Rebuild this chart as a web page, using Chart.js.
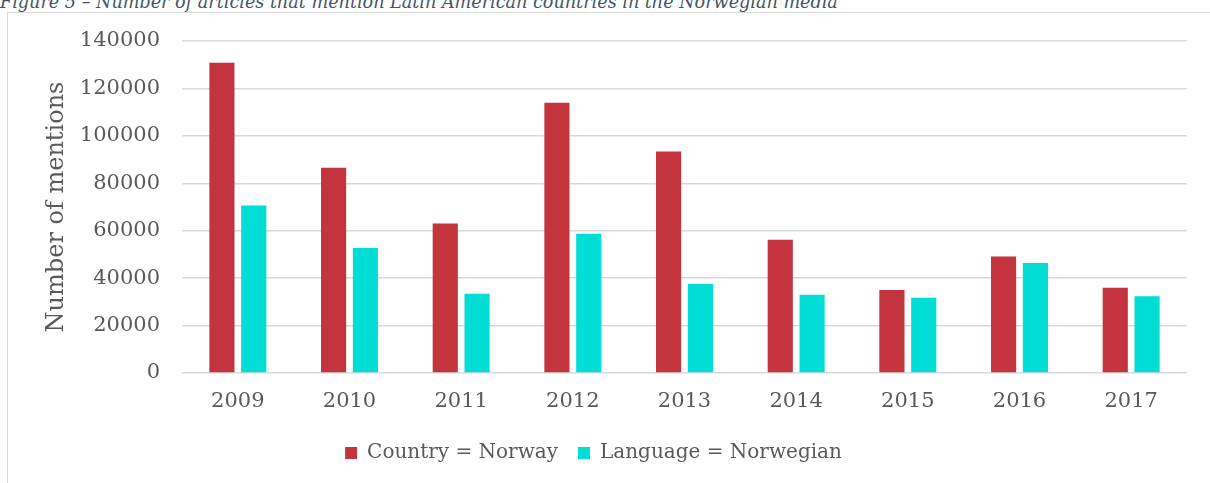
<!DOCTYPE html>
<html>
<head>
<meta charset="utf-8">
<script src="https://cdn.jsdelivr.net/npm/chart.js@4.4.1/dist/chart.umd.min.js"></script>
<style>
  html, body { margin:0; padding:0; background:#fff; width:1210px; height:483px; overflow:hidden; }
  #caption { position:absolute; left:0; top:-8px; font-family:"DejaVu Serif", serif; font-style:italic; font-size:17.6px; line-height:20px; color:#44546A; white-space:nowrap; }
  #frame { position:absolute; left:7px; top:12px; width:1230px; height:500px; border:1.5px solid #d9d9d9; box-sizing:border-box; }
  #wrap { position:absolute; left:0; top:0; width:1190px; height:483px; }
</style>
</head>
<body>
<div id="caption">Figure 5 – Number of articles that mention Latin American countries in the Norwegian media</div>
<div id="frame"></div>
<div id="wrap"><canvas id="c" width="1190" height="483"></canvas></div>
<script>
const categories = ["2009","2010","2011","2012","2013","2014","2015","2016","2017"];
const countryNorway = [130800, 86600, 63000, 114000, 93400, 56200, 35000, 49100, 35900];
const languageNorwegian = [70600, 52700, 33400, 58700, 37500, 33000, 31700, 46400, 32400];
const seriesNames = ["Country = Norway", "Language = Norwegian"];
const yTicks = [0, 20000, 40000, 60000, 80000, 100000, 120000, 140000];

const FONT = '"DejaVu Serif", "Liberation Serif", serif';
const TXT = '#595959';

new Chart(document.getElementById('c'), {
  type: 'bar',
  data: {
    labels: categories,
    datasets: [
      { label: seriesNames[0], data: countryNorway, backgroundColor: '#C3343F', borderWidth: 0,
        categoryPercentage: 0.57, barPercentage: 0.79 },
      { label: seriesNames[1], data: languageNorwegian, backgroundColor: '#00DCD6', borderWidth: 0,
        categoryPercentage: 0.57, barPercentage: 0.79 }
    ]
  },
  options: {
    responsive: false,
    animation: false,
    layout: { padding: { top: 41, right: 3, left: 0, bottom: 10 } },
    plugins: {
      tooltip: { enabled: false },
      legend: {
        position: 'bottom',
        labels: { font: { family: FONT, size: 20 }, color: TXT, boxWidth: 12, boxHeight: 12, padding: 20 }
      }
    },
    scales: {
      x: {
        grid: { display: false, drawTicks: false },
        border: { display: false },
        ticks: { font: { family: FONT, size: 21 }, color: TXT, padding: 16, maxRotation: 0 },
        afterFit(s) { s.height = 50; }
      },
      y: {
        min: 0, max: 140000,
        afterBuildTicks(s) { s.ticks = yTicks.map(v => ({ value: v })); },
        grid: { color: '#d9d9d9', lineWidth: 1.5, drawTicks: false },
        border: { display: false },
        ticks: { font: { family: FONT, size: 21 }, color: TXT, padding: 22, callback: v => String(v) },
        title: { display: true, text: 'Number of mentions', font: { family: FONT, size: 24 }, color: TXT, padding: { top: 42, bottom: 0 } },
        afterFit(s) { s.width = 182; }
      }
    }
  }
});
</script>
</body>
</html>
